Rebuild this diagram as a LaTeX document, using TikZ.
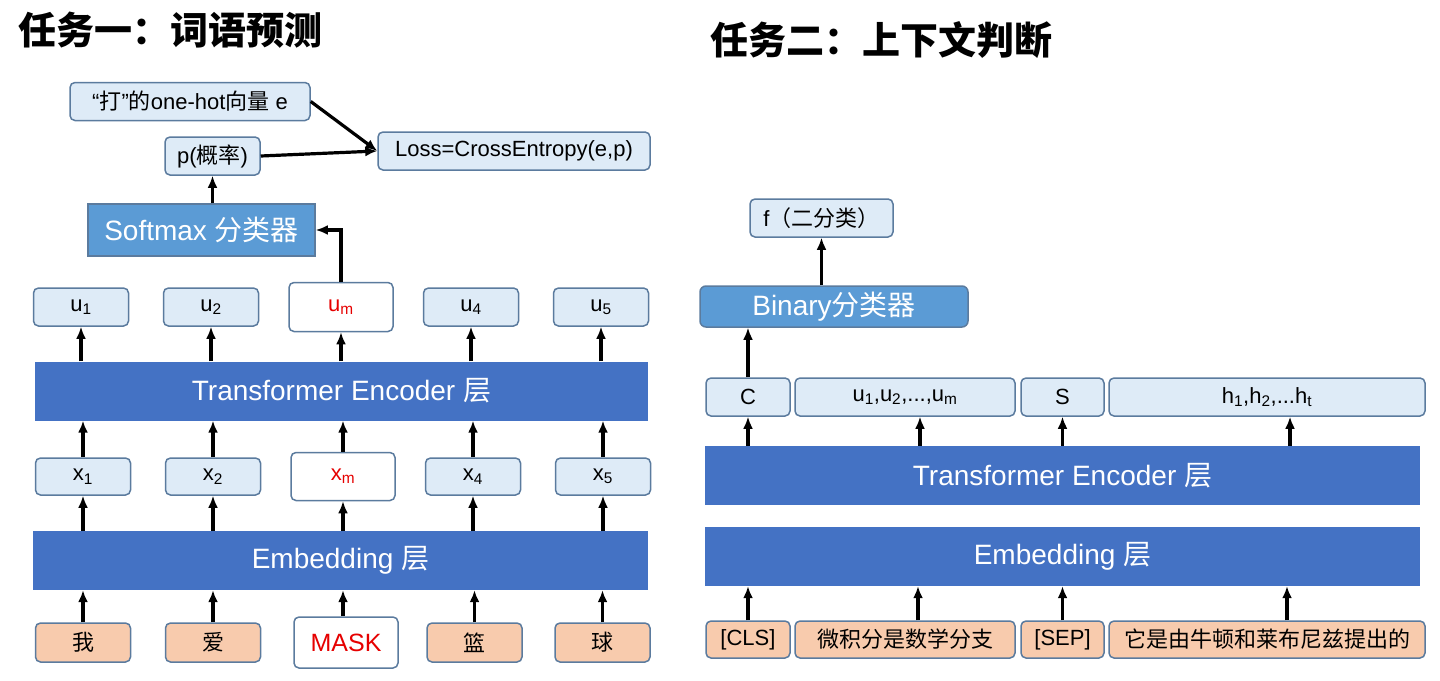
\documentclass[tikz,border=0pt]{standalone}
\usepackage{fontspec}
\setmainfont{Liberation Sans}
\newfontfamily\cjk{Noto Sans CJK SC}
\newcommand{\zhs}[1]{{\cjk #1}}
\usetikzlibrary{positioning,arrows.meta}
\definecolor{cellfill}{HTML}{DEEBF7}
\definecolor{celledge}{HTML}{5B7B9E}
\definecolor{bandblue}{HTML}{4472C4}
\definecolor{clsblue}{HTML}{5B9BD5}
\definecolor{tokfill}{HTML}{F8CBAD}
\definecolor{maskred}{HTML}{E60000}

\begin{document}
\begin{tikzpicture}[x=1pt,y=-1pt]
                        \tikzstyle{every node}=[inner sep=0,font=\fontsize{22}{24}\selectfont]
                        \tikzstyle{cell}=[draw=celledge,fill=cellfill,rounded corners=5pt,line width=1.5pt,minimum width=95,minimum height=38]
                        \tikzstyle{hot}=[cell,fill=white,text=maskred,minimum width=104,minimum height=49]
                        \tikzstyle{token}=[cell,fill=tokfill]
                        \tikzstyle{band}=[fill=bandblue,text=white,minimum height=59,font=\fontsize{28}{32}\selectfont]
                        \tikzstyle{classifier}=[draw=celledge,fill=clsblue,text=white,line width=1.5pt,font=\fontsize{28}{32}\selectfont]
                        \tikzstyle{title}=[anchor=west,font=\cjk\bfseries\fontsize{38}{42}\selectfont]
                        \tikzstyle{arr}=[->,>={Latex[length=12pt,width=10pt]},line width=3.2pt]
                        \useasboundingbox (0,0) rectangle (1440,680);
                        {
                            % task one: word prediction
                            \node[title] (title1) at (18,30) {任务一：词语预测};

                            \node[cell,minimum width=240] (onehot) at (190,101.5) {“\zhs{打}”\zhs{的}one-hot\zhs{向量} e};
                            \node[cell] (prob) at (212.5,156) {p(\zhs{概率})};
                            \node[cell,minimum width=272] (loss) at (514,151) {Loss=CrossEntropy(e,p)};
                            \node[classifier,minimum width=227,minimum height=52] (softmax) at (201.5,230) {Softmax \zhs{分类器}};

                            \node[cell] (u1) at (81,307) {u\textsubscript{1}};
                            \node[cell,node distance=130pt] (u2) [right of=u1] {u\textsubscript{2}};
                            \node[hot,node distance=130pt] (um) [right of=u2] {u\textsubscript{m}};
                            \node[cell,node distance=130pt] (u4) [right of=um] {u\textsubscript{4}};
                            \node[cell,node distance=130pt] (u5) [right of=u4] {u\textsubscript{5}};

                            \node[band,minimum width=613] (enc1) at (341.5,391) {Transformer Encoder \zhs{层}};

                            \node[cell,minimum height=37] (x1) at (83,476.5) {x\textsubscript{1}};
                            \node[cell,minimum height=37,node distance=130pt] (x2) [right of=x1] {x\textsubscript{2}};
                            \node[hot,minimum height=48,node distance=130pt] (xm) [right of=x2] {x\textsubscript{m}};
                            \node[cell,minimum height=37,node distance=130pt] (x4) [right of=xm] {x\textsubscript{4}};
                            \node[cell,minimum height=37,node distance=130pt] (x5) [right of=x4] {x\textsubscript{5}};

                            \node[band,minimum width=615] (emb1) at (340.5,560.5) {Embedding \zhs{层}};

                            \node[token,minimum height=39] (w1) at (83,642.5) {\zhs{我}};
                            \node[token,minimum height=39,node distance=130pt] (w2) [right of=w1] {\zhs{爱}};
                            \node[hot,minimum height=51,node distance=133pt,font=\fontsize{25}{28}\selectfont] (mask) [right of=w2] {MASK};
                            \node[token,minimum height=39] (w4) at (474.5,642.5) {\zhs{篮}};
                            \node[token,minimum height=39,node distance=128pt] (w5) [right of=w4] {\zhs{球}};

                            \draw[arr] (onehot.east) -- (loss.west);
                            \draw[arr] (prob.east) -- (loss.west);
                            \draw[arr] (softmax.north -| prob) -- (prob.south);
                            \draw[arr] (um.north) |- (softmax.east);

                            \path[arr]
                                (u1 |- enc1.north) edge (u1.south)
                                (u2 |- enc1.north) edge (u2.south)
                                (um |- enc1.north) edge (um.south)
                                (u4 |- enc1.north) edge (u4.south)
                                (u5 |- enc1.north) edge (u5.south)
                                (x1.north) edge (x1 |- enc1.south)
                                (x2.north) edge (x2 |- enc1.south)
                                (xm.north) edge (xm |- enc1.south)
                                (x4.north) edge (x4 |- enc1.south)
                                (x5.north) edge (x5 |- enc1.south)
                                (x1 |- emb1.north) edge (x1.south)
                                (x2 |- emb1.north) edge (x2.south)
                                (xm |- emb1.north) edge (xm.south)
                                (x4 |- emb1.north) edge (x4.south)
                                (x5 |- emb1.north) edge (x5.south)
                                (w1.north) edge (w1 |- emb1.south)
                                (w2.north) edge (w2 |- emb1.south)
                                (xm |- mask.north) edge (xm |- emb1.south)
                                (w4.north) edge (w4 |- emb1.south)
                                (w5.north) edge (w5 |- emb1.south);

                            % task two: next sentence
                            \node[title] (title2) at (710,40) {任务二：上下文判断};

                            \node[cell,minimum width=143] (flag) at (821.5,218) {f\zhs{（二分类）}};
                            \node[classifier,rounded corners=6pt,minimum width=268,minimum height=41] (binary) at (834,306.5) {Binary\zhs{分类器}};

                            \node[cell,minimum width=84] (vc) at (748,397) {C};
                            \node[cell,minimum width=220,right=3.5pt of vc] (vu) {u\textsubscript{1},u\textsubscript{2},...,u\textsubscript{m}};
                            \node[cell,minimum width=83,right=4.5pt of vu] (vs) {S};
                            \node[cell,minimum width=316,right=3.5pt of vs] (vh) {h\textsubscript{1},h\textsubscript{2},...h\textsubscript{t}};

                            \node[band,minimum width=715] (enc2) at (1062.5,475.5) {Transformer Encoder \zhs{层}};
                            \node[band,minimum width=715] (emb2) at (1062.5,556.5) {Embedding \zhs{层}};

                            \node[token,minimum width=84,minimum height=37] (cls) at (748,639.5) {[CLS]};
                            \node[token,minimum width=220,minimum height=37,right=3.5pt of cls] (senta) {\zhs{微积分是数学分支}};
                            \node[token,minimum width=83,minimum height=37,right=4.5pt of senta] (sep) {[SEP]};
                            \node[token,minimum width=316,minimum height=37,right=3.5pt of sep] (sentb) {\zhs{它是由牛顿和莱布尼兹提出的}};

                            \draw[arr] (binary.north -| flag) -- (flag.south);
                            \draw[arr] (vc.north) -- (vc |- binary.south);

                            \path[arr]
                                (vc |- enc2.north) edge (vc.south)
                                ([xshift=15pt]vu |- enc2.north) edge ([xshift=15pt]vu.south)
                                (vs |- enc2.north) edge (vs.south)
                                ([xshift=23pt]vh |- enc2.north) edge ([xshift=23pt]vh.south)
                                (cls.north) edge (cls |- emb2.south)
                                ([xshift=13pt]senta.north) edge ([xshift=13pt]senta |- emb2.south)
                                (sep.north) edge (sep |- emb2.south)
                                ([xshift=20pt]sentb.north) edge ([xshift=20pt]sentb |- emb2.south);
                        }
\end{tikzpicture}
\end{document}
